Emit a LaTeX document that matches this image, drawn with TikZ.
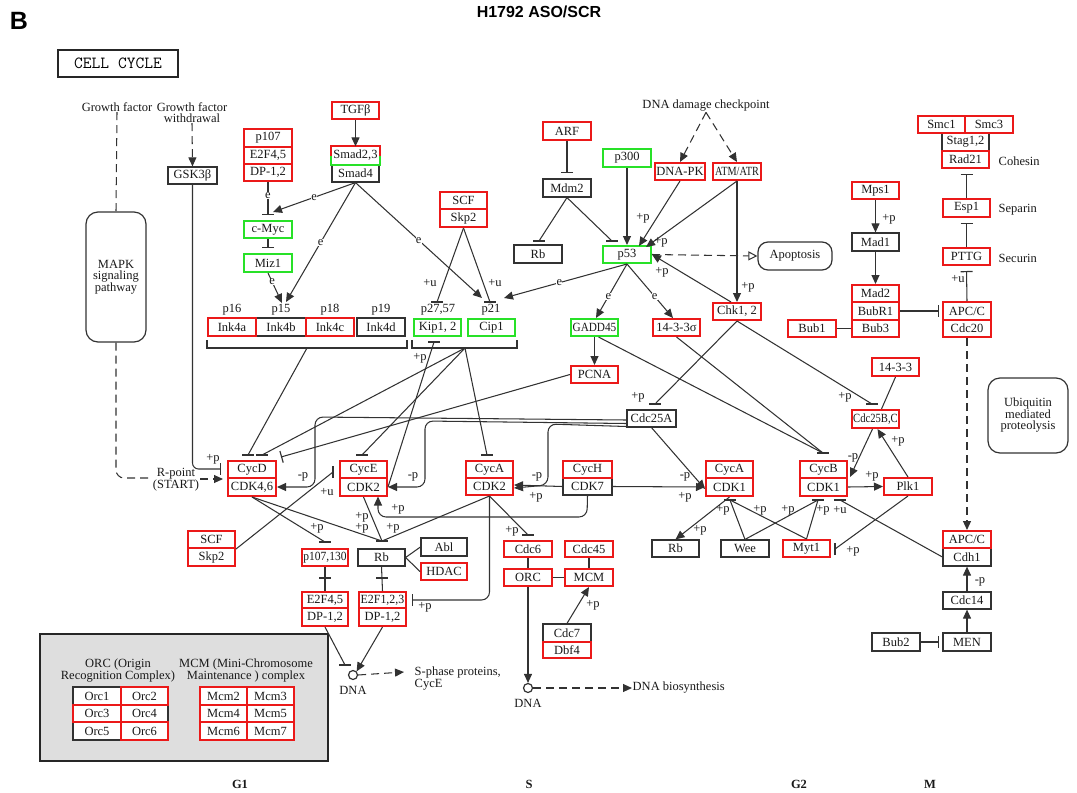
\documentclass[tikz,border=0pt]{standalone}
\usepackage{fontspec}
\usepackage{graphicx}
\setmainfont{Liberation Serif}
\newfontfamily\arialf{Liberation Sans}
\usetikzlibrary{arrows.meta,calc}
\definecolor{kred}{RGB}{235,25,25}
\definecolor{kgreen}{RGB}{40,225,40}
\definecolor{linec}{RGB}{50,50,50}
\definecolor{legg}{RGB}{222,222,222}
\definecolor{txt}{RGB}{25,25,25}
\newcommand\tf{\fontsize{12.5}{12}\selectfont}
\newcommand\bx[7]{\node[#1,minimum width={(#4-#2)*1pt},minimum height={(#5-#3)*1pt}] (#6) at ({(#2+#4)/2},{(#3+#5)/2}) {#7};}
\newcommand\hb[1]{\draw[barst] ([xshift=-6pt]#1) -- ([xshift=6pt]#1);}
\newcommand\vb[1]{\draw[barst] ([yshift=-6pt]#1) -- ([yshift=6pt]#1);}
\newcommand\sq[2]{\scalebox{#1}[1]{#2}}
\begin{document}
\begin{tikzpicture}[x=1pt,y=-1pt,
 ln/.style={draw=linec,line width=1.05pt},
 arr/.style={ln,-{Triangle[length=9pt,width=8pt]}},
 inh/.style={ln,-{Bar[width=12pt,line width=1.2pt]}},
 dsh/.style={ln,dash pattern=on 8pt off 5pt},
 dtip/.style={-{Triangle[length=9pt,width=8pt]}},
 barst/.style={draw=linec,line width=1.2pt},
 kb/.style={draw=linec,line width=1.2pt,fill=white,inner sep=0pt,font=\tf,text=txt},
 rb/.style={kb,draw=kred,line width=2pt},
 gb/.style={kb,draw=kgreen,line width=2pt},
 lb/.style={font=\tf,inner sep=0.5pt,text=txt},
 el/.style={font=\tf,fill=white,inner sep=0.3pt,text=txt},
 rbox/.style={draw=linec,line width=1.2pt,rounded corners=10pt,align=center,inner sep=0pt,text=txt,font=\fontsize{12.5}{11.5}\selectfont}
]
\useasboundingbox (0,0) rectangle (1077,793);
% ---------- header ----------
\node[font=\arialf\bfseries\fontsize{25}{25}\selectfont,inner sep=0] (hB) at (19,21) {B};
\node[font=\arialf\bfseries\fontsize{16}{16}\selectfont,inner sep=0] (title) at (539,12) {H1792 ASO/SCR};
\node[draw=black!85,line width=1.8pt,minimum width=120pt,minimum height=27pt,inner sep=0,font=\ttfamily\fontsize{17}{17}\selectfont] (cc) at (118,63.5) {CELL CYCLE};
% ---------- legend ----------
\draw[line width=2pt,draw=black!85,fill=legg] (40,634) rectangle (328,761);
\node[lb,align=center,font=\fontsize{12.5}{11.5}\selectfont] (orct) at (118,670.5) {ORC (Origin\\Recognition Complex)};
\node[lb,align=center,font=\fontsize{12.5}{11.5}\selectfont] (mcmt) at (246,670.5) {MCM (Mini-Chromosome\\Maintenance ) complex};
\bx{kb}{73}{687}{121}{705}{oa}{Orc1}
\bx{kb}{121}{705}{168}{722}{od}{Orc4}
\bx{kb}{73}{722}{121}{740}{oe}{Orc5}
\bx{rb}{121}{687}{168}{705}{ob}{Orc2}
\bx{rb}{73}{705}{121}{722}{oc}{Orc3}
\bx{rb}{121}{722}{168}{740}{of}{Orc6}
\bx{rb}{200}{687}{247}{705}{ma}{Mcm2}
\bx{rb}{247}{687}{294}{705}{mb}{Mcm3}
\bx{rb}{200}{705}{247}{722}{mc}{Mcm4}
\bx{rb}{247}{705}{294}{722}{md}{Mcm5}
\bx{rb}{200}{722}{247}{740}{me}{Mcm6}
\bx{rb}{247}{722}{294}{740}{mf}{Mcm7}
% ---------- free texts ----------
\node[lb] (gf) at (117,107) {Growth factor};
\node[lb,align=center,font=\fontsize{12.5}{11}\selectfont] (gfw) at (192,112.5) {Growth factor\\withdrawal};
\node[lb] (ddc) at (706,106) {DNA damage checkpoint};
\node[lb,anchor=west] (coh) at (998,161) {Cohesin};
\node[lb,anchor=west] (sep) at (998,210) {Separin};
\node[lb,anchor=west] (sec) at (998,258) {Securin};
\node[lb,align=center,font=\fontsize{12.5}{12.5}\selectfont] (rpt) at (176,479.5) {R-point\\(START)};
\node[lb,anchor=west] (sph) at (414,672) {S-phase proteins,};
\node[lb,anchor=west] (sphb) at (414,685) {CycE};
\node[lb,anchor=west] (dbs) at (632,688) {DNA biosynthesis};
\node[lb] (dnat1) at (353,690) {DNA};
\node[lb] (dnat2) at (528,703) {DNA};
\node[lb,font=\tf\bfseries] (g1) at (240,784) {G1};
\node[lb,font=\tf\bfseries] (gs) at (529,784) {S};
\node[lb,font=\tf\bfseries] (g2) at (799,784) {G2};
\node[lb,font=\tf\bfseries] (gm) at (930,784) {M};
\node[lb] (l16) at (232,310) {p16};
\node[lb] (l15) at (281,310) {p15};
\node[lb] (l18) at (330,310) {p18};
\node[lb] (l19) at (381,310) {p19};
\node[lb] (l27) at (438,310) {p27,57};
\node[lb] (l21) at (491,310) {p21};
% ---------- rounded boxes ----------
\node[rbox,minimum width=60pt,minimum height=130pt,rounded corners=12pt] (mapk) at (116,277) {MAPK\\signaling\\pathway};
\node[rbox,minimum width=74pt,minimum height=28pt] (apop) at (795,256) {Apoptosis};
\node[rbox,minimum width=80pt,minimum height=75pt,rounded corners=12pt] (ubq) at (1028,415.5) {Ubiquitin\\mediated\\proteolysis};
% ---------- boxes ----------
\bx{kb}{168}{167}{217}{184}{gsk}{GSK3β}
\bx{rb}{244}{129}{292}{147}{pa}{p107}
\bx{rb}{244}{147}{292}{164}{ea}{E2F4,5}
\bx{rb}{244}{164}{292}{181}{dpa}{DP-1,2}
\bx{gb}{244}{221}{292}{238}{cmyc}{c-Myc}
\bx{gb}{244}{254}{292}{272}{miz}{Miz1}
\bx{rb}{332}{102}{379}{119}{tgf}{TGFβ}
\bx{kb}{332}{164}{379}{182}{smad}{Smad4}
\node[kb,draw=none,fill=white,minimum width=47pt,minimum height=17pt] (smadt) at (355.5,155.5) {Smad2,3};
\draw[draw=kgreen,line width=2pt] (smadt.north west) rectangle (smadt.south east);
\draw[draw=kred,line width=2pt] (smadt.west) |- (smadt.north east) -- (smadt.east);
\bx{kb}{256}{318}{306}{336}{inkb}{Ink4b}
\bx{kb}{357}{318}{405}{336}{inkd}{Ink4d}
\bx{rb}{208}{318}{256}{336}{inka}{Ink4a}
\bx{rb}{306}{318}{354}{336}{inkc}{Ink4c}
\bx{gb}{414}{319}{461}{336}{kip}{Kip1, 2}
\bx{gb}{468}{319}{515}{336}{cip}{Cip1}
\bx{rb}{440}{192}{487}{209}{scfa}{SCF}
\bx{rb}{440}{209}{487}{227}{skpa}{Skp2}
\bx{rb}{543}{122}{591}{140}{arf}{ARF}
\bx{kb}{543}{179}{591}{197}{mdm}{Mdm2}
\bx{kb}{514}{245}{562}{263}{rba}{Rb}
\bx{gb}{603}{149}{651}{167}{pth}{p300}
\bx{gb}{603}{246}{651}{263}{pft}{p53}
\bx{rb}{655}{163}{705}{180}{dnapk}{DNA-PK}
\bx{rb}{713}{163}{761}{180}{atm}{\sq{0.82}{ATM/ATR}}
\bx{rb}{713}{303}{761}{320}{chk}{Chk1, 2}
\bx{gb}{571}{319}{618}{336}{gadd}{\sq{0.9}{GADD45}}
\bx{rb}{653}{319}{700}{336}{sig}{14-3-3σ}
\bx{rb}{571}{366}{618}{383}{pcna}{PCNA}
\bx{kb}{627}{410}{676}{427}{cdca}{Cdc25A}
\bx{kb}{942}{133}{989}{151}{stag}{Stag1,2}
\bx{rb}{918}{116}{965}{133}{smca}{Smc1}
\bx{rb}{965}{116}{1013}{133}{smcb}{Smc3}
\bx{rb}{942}{151}{989}{168}{rad}{Rad21}
\bx{rb}{943}{199}{990}{217}{esp}{Esp1}
\bx{rb}{943}{248}{990}{265}{pttg}{PTTG}
\bx{rb}{943}{302}{991}{320}{apca}{APC/C}
\bx{rb}{943}{320}{991}{337}{cdct}{Cdc20}
\bx{rb}{852}{182}{899}{199}{mps}{Mps1}
\bx{kb}{852}{233}{899}{251}{mada}{Mad1}
\bx{rb}{852}{285}{899}{302}{madb}{Mad2}
\bx{rb}{852}{302}{899}{320}{bubr}{BubR1}
\bx{rb}{852}{320}{899}{337}{bubc}{Bub3}
\bx{rb}{788}{320}{836}{337}{buba}{Bub1}
\bx{rb}{872}{358}{919}{376}{ft}{14-3-3}
\bx{rb}{852}{410}{899}{428}{cdcbc}{\sq{0.85}{Cdc25B,C}}
\bx{rb}{228}{461}{276}{478}{cycd}{CycD}
\bx{rb}{228}{478}{276}{496}{cdkd}{CDK4,6}
\bx{rb}{340}{461}{387}{478}{cyce}{CycE}
\bx{rb}{340}{478}{387}{496}{cdke}{CDK2}
\bx{rb}{466}{461}{513}{478}{cyca}{CycA}
\bx{rb}{466}{478}{513}{495}{cdka}{CDK2}
\bx{kb}{563}{478}{612}{495}{cdks}{CDK7}
\bx{rb}{563}{461}{612}{478}{cych}{CycH}
\bx{rb}{706}{461}{753}{478}{cycaa}{CycA}
\bx{rb}{706}{478}{753}{496}{cdkaa}{CDK1}
\bx{rb}{800}{461}{847}{478}{cycb}{CycB}
\bx{rb}{800}{478}{847}{496}{cdkb}{CDK1}
\bx{rb}{884}{478}{932}{495}{plk}{Plk1}
\bx{rb}{188}{531}{235}{548}{scfb}{SCF}
\bx{rb}{188}{548}{235}{566}{skpb}{Skp2}
\bx{rb}{302}{549}{348}{566}{pot}{\sq{0.92}{p107,130}}
\bx{kb}{358}{549}{405}{566}{rbb}{Rb}
\bx{kb}{421}{538}{467}{556}{abl}{Abl}
\bx{rb}{421}{563}{467}{580}{hdac}{HDAC}
\bx{rb}{302}{592}{348}{608}{eb}{E2F4,5}
\bx{rb}{302}{608}{348}{626}{dpb}{DP-1,2}
\bx{rb}{359}{592}{406}{608}{ec}{\sq{0.95}{E2F1,2,3}}
\bx{rb}{359}{608}{406}{626}{dpc}{DP-1,2}
\bx{rb}{504}{541}{552}{557}{cdcs}{Cdc6}
\bx{rb}{565}{541}{613}{557}{cdcff}{Cdc45}
\bx{rb}{504}{569}{552}{586}{orc}{ORC}
\bx{rb}{565}{569}{613}{586}{mcm}{MCM}
\bx{kb}{543}{624}{591}{642}{cdcse}{Cdc7}
\bx{rb}{543}{642}{591}{658}{dbf}{Dbf4}
\bx{kb}{652}{540}{699}{557}{rbc}{Rb}
\bx{kb}{721}{540}{769}{557}{wee}{Wee}
\bx{rb}{783}{540}{830}{557}{myt}{Myt1}
\bx{kb}{943}{548}{991}{566}{cdh}{Cdh1}
\bx{rb}{943}{531}{991}{548}{apcb}{APC/C}
\bx{kb}{943}{592}{991}{609}{cdcft}{Cdc14}
\bx{kb}{943}{633}{991}{651}{men}{MEN}
\bx{kb}{872}{633}{920}{651}{bubt}{Bub2}
\node[circle,draw=linec,line width=1.2pt,minimum size=9pt,inner sep=0pt,fill=white] (dnaa) at (353,675) {};
\node[circle,draw=linec,line width=1.2pt,minimum size=9pt,inner sep=0pt,fill=white] (dnab) at (528,688) {};
% brackets
\draw[ln] (207,340) |- (407,348) -- (407,340);
\draw[ln] (412,340) |- (517,348) -- (517,340);
% ---------- coordinates ----------
\coordinate (cgsk) at (221,469);
\coordinate (crp) at (223,479);
\coordinate (crpl) at (150,478);
\coordinate (crpr) at (200,479);
\coordinate (cmyca) at (268,215);
\coordinate (cmycb) at (273,212);
\coordinate (cmiz) at (268,248);
\coordinate (cinka) at (282,303);
\coordinate (cinkb) at (286,302);
\coordinate (cpa) at (482,298);
\coordinate (cpb) at (504,298);
\coordinate (ckipu) at (437,302);
\coordinate (ccipu) at (490,302);
\coordinate (cmdm) at (567,173);
\coordinate (crba) at (539,241);
\coordinate (cpi) at (612,241);
\coordinate (cpk) at (639,246);
\coordinate (catm) at (646,247);
\coordinate (cgad) at (596,318);
\coordinate (csig) at (673,318);
\coordinate (cbb) at (823,453);
\coordinate (cta) at (655,404);
\coordinate (ctbc) at (872,404);
\coordinate (cinkbr) at (307,348);
\coordinate (ckipbr) at (465,348);
\coordinate (cda) at (248,455);
\coordinate (cdb) at (262,455);
\coordinate (cdc) at (281,457);
\coordinate (ceb) at (362,455);
\coordinate (cab) at (487,455);
\coordinate (ckb) at (434,342);
\coordinate (cscf) at (333,472);
\coordinate (cpob) at (325,542);
\coordinate (crbb) at (382,541);
\coordinate (cxa) at (325,578);
\coordinate (cxb) at (382,578);
\coordinate (cetb) at (412,600);
\coordinate (ccds) at (528,535);
\coordinate (cdnb) at (345,665);
\coordinate (cka) at (730,500);
\coordinate (ckbb) at (818,500);
\coordinate (cku) at (840,500);
\coordinate (cmyt) at (835,549);
\coordinate (cpttg) at (966.5,271);
\coordinate (cesp) at (966.5,223);
\coordinate (crad) at (966.5,174);
\coordinate (cdd) at (425,487);
% ---------- connectors ----------
\draw[dsh] (gf.south) -- (mapk.north);
\draw[dsh,rounded corners=8pt] (mapk.south) |- (crpl);
\draw[dsh,dtip] (crpr) -- (crp);
\draw[ln,-{Bar[width=12pt,line width=1.2pt]},rounded corners=6pt] (gsk.south) |- (cgsk);
\draw[dsh,dtip] (gfw.south) -- (gsk.north);
\draw[arr] (tgf.south) -- (smadt.north);
\draw[inh] (dpa.south) -- node[el,pos=0.4]{e} (cmyca);
\draw[arr] (smad.south) -- node[el,pos=0.5]{e} (cmycb);
\draw[inh] (cmyc.south) -- (cmiz);
\draw[arr] (miz.south) -- node[el,pos=0.3]{e} (cinka);
\draw[arr] (smad.south) -- node[el,pos=0.5]{e} (cinkb);
\draw[arr] (smad.south) -- node[el,pos=0.5]{e} (cpa);
\draw[ln] (skpa.south) -- (ckipu); \hb{ckipu}
\draw[ln] (skpa.south) -- (ccipu); \hb{ccipu}
\draw[inh] (arf.south) -- (cmdm);
\draw[ln] (mdm.south) -- (crba); \hb{crba}
\draw[ln] (mdm.south) -- (cpi); \hb{cpi}
\draw[arr] (pth.south) -- (pft.north);
\draw[dsh,dtip] (ddc.south) -- (dnapk.north);
\draw[dsh,dtip] (ddc.south) -- (atm.north);
\draw[arr] (dnapk.south) -- (cpk);
\draw[arr] (atm.south) -- (catm);
\draw[arr] (atm.south) -- (chk.north);
\draw[arr] ([xshift=-6pt]chk.north) -- (pft.east);
\draw[dsh,-{Triangle[open,length=9pt,width=9pt]}] (pft.east) -- (apop.west);
\draw[arr] (pft.south) -- node[el,pos=0.55]{e} (cpb);
\draw[arr] (pft.south) -- node[el,pos=0.6]{e} (cgad);
\draw[arr] (pft.south) -- node[el,pos=0.6]{e} (csig);
\draw[arr] (gadd.south) -- (pcna.north);
\draw[ln] ([xshift=4pt]gadd.south) -- (cbb);
\draw[ln] (sig.south) -- (cbb); \hb{cbb}
\draw[ln] (chk.south) -- (cta); \hb{cta}
\draw[ln] (chk.south) -- (ctbc); \hb{ctbc}
\draw[ln] (ft.south) -- ([xshift=6pt]cdcbc.north);
\draw[arr] (plk.north) -- ([xshift=2pt]cdcbc.south);
\draw[arr] ([xshift=-3pt]cdcbc.south) -- ([xshift=2pt]cdkb.north east);
\draw[arr] (cdkb.east) -- (plk.west);
\draw[ln] (plk.south) -- (cmyt); \vb{cmyt}
\draw[ln] (cdh.west) -- (cku); \hb{cku}
\draw[arr] (mps.south) -- (mada.north);
\draw[arr] (mada.south) -- (madb.north);
\draw[ln] (buba.east) -- (bubc.west);
\draw[ln,-{Bar[width=12pt,line width=1.2pt]},shorten >=3pt] (bubr.east) -- (apca.west);
\draw[inh] (apca.north) -- (cpttg);
\draw[inh] (pttg.north) -- (cesp);
\draw[inh] (esp.north) -- (crad);
\draw[dsh,dtip] (cdct.south) -- (apcb.north);
\draw[arr] (cdcft.north) -- (cdh.south);
\draw[arr] (men.north) -- (cdcft.south);
\draw[ln,-{Bar[width=12pt,line width=1.2pt]},shorten >=3pt] (bubt.east) -- (men.west);
% CDK inhibitors
\draw[ln] (cinkbr) -- (cda); \hb{cda}
\draw[ln] (ckipbr) -- (cdb); \hb{cdb}
\draw[ln] (ckipbr) -- (ceb); \hb{ceb}
\draw[ln] (ckipbr) -- (cab); \hb{cab}
\draw[inh] (pcna.west) -- (cdc);
\draw[ln] (cdke.east) -- (ckb); \hb{ckb}
\draw[ln] (scfb.south east) -- (cscf); \vb{cscf}
% Cdc25A
\draw[arr,rounded corners=8pt] ([yshift=-1.5pt]cdca.west) -- (315,417) -- (315,487) -- (cdkd.east);
\draw[arr,rounded corners=8pt] ([yshift=-5pt]cdca.west) -- (425,421) -- (cdd) -- (cdke.east);
\draw[arr,rounded corners=8pt] ([yshift=-8pt]cdca.west) -- (548,424) -- (548,485) -- ([yshift=-1.5pt]cdka.east);
\draw[arr] (cdca.south) -- ([yshift=-2pt]cdkaa.west);
% CDK7
\draw[arr] (cdks.west) -- ([yshift=1.5pt]cdka.east);
\draw[arr] (cdks.east) -- (cdkaa.west);
\draw[arr,rounded corners=8pt] (cdks.south) -- (587,517) -- (378,517) -- (378,496.5);
% CDK -> Rb etc.
\draw[ln] (cdkd.south) -- (cpob); \hb{cpob}
\draw[ln] (cdkd.south) -- (crbb);
\draw[ln] (cdke.south) -- (crbb);
\draw[ln] (cdka.south) -- (crbb); \hb{crbb}
\draw[ln] (pot.south) -- (eb.north); \hb{cxa}
\draw[ln] (rbb.south) -- (ec.north); \hb{cxb}
\draw[ln] (rbb.east) -- (abl.west);
\draw[ln] (rbb.east) -- (hdac.west);
\draw[inh,rounded corners=8pt] (cdka.south) -- (489.5,600) -- (cetb);
\draw[ln] (cdka.south) -- (ccds); \hb{ccds}
\draw[ln] (cdcs.south) -- (orc.north);
\draw[ln] (cdcff.south) -- (mcm.north);
\draw[ln] (orc.east) -- (mcm.west);
\draw[arr] (cdcse.north) -- (mcm.south);
\draw[arr] (orc.south) -- (dnab.north);
\draw[dsh,dtip] (dnab.east) -- (dbs.west);
\draw[ln] (dpb.south) -- (cdnb); \hb{cdnb}
\draw[arr] (dpc.south) -- (dnaa.north east);
\draw[dsh,dtip] (dnaa.east) -- ([xshift=-10pt]sph.west);
% CDK1 region
\draw[arr] (cdkaa.south) -- (rbc.north);
\draw[ln] (wee.north) -- (cka);
\draw[ln] (wee.north) -- (ckbb);
\draw[ln] (myt.north) -- (cka); \hb{cka}
\draw[ln] (myt.north) -- (ckbb); \hb{ckbb}
% ---------- small labels ----------
\node[lb] (q1) at (213,459) {+p};
\node[lb] (q2) at (430,283) {+u};
\node[lb] (q3) at (495,283) {+u};
\node[lb] (q4) at (643,218) {+p};
\node[lb] (q5) at (661,242) {+p};
\node[lb] (q6) at (748,287) {+p};
\node[lb] (q7) at (662,272) {+p};
\node[lb] (q8) at (889,219) {+p};
\node[lb] (q9) at (958,279) {+u};
\node[lb] (q10) at (638,397) {+p};
\node[lb] (q11) at (845,397) {+p};
\node[lb] (q12) at (898,441) {+p};
\node[lb] (q13) at (853,458) {-p};
\node[lb] (q14) at (872,476) {+p};
\node[lb] (q15) at (303,477) {-p};
\node[lb] (q16) at (413,477) {-p};
\node[lb] (q17) at (537,477) {-p};
\node[lb] (q18) at (685,477) {-p};
\node[lb] (q19) at (420,358) {+p};
\node[lb] (q20) at (327,492) {+u};
\node[lb] (q21) at (398,509) {+p};
\node[lb] (q22) at (536,497) {+p};
\node[lb] (q23) at (685,497) {+p};
\node[lb] (q24) at (317,528) {+p};
\node[lb] (q25) at (362,517) {+p};
\node[lb] (q26) at (362,528) {+p};
\node[lb] (q27) at (393,528) {+p};
\node[lb] (q28) at (512,531) {+p};
\node[lb] (q29) at (425,607) {+p};
\node[lb] (q30) at (593,605) {+p};
\node[lb] (q31) at (700,530) {+p};
\node[lb] (q32) at (723,510) {+p};
\node[lb] (q33) at (760,510) {+p};
\node[lb] (q34) at (788,510) {+p};
\node[lb] (q35) at (823,510) {+p};
\node[lb] (q36) at (840,510) {+u};
\node[lb] (q37) at (853,551) {+p};
\node[lb] (q38) at (980,582) {-p};
\end{tikzpicture}
\end{document}
